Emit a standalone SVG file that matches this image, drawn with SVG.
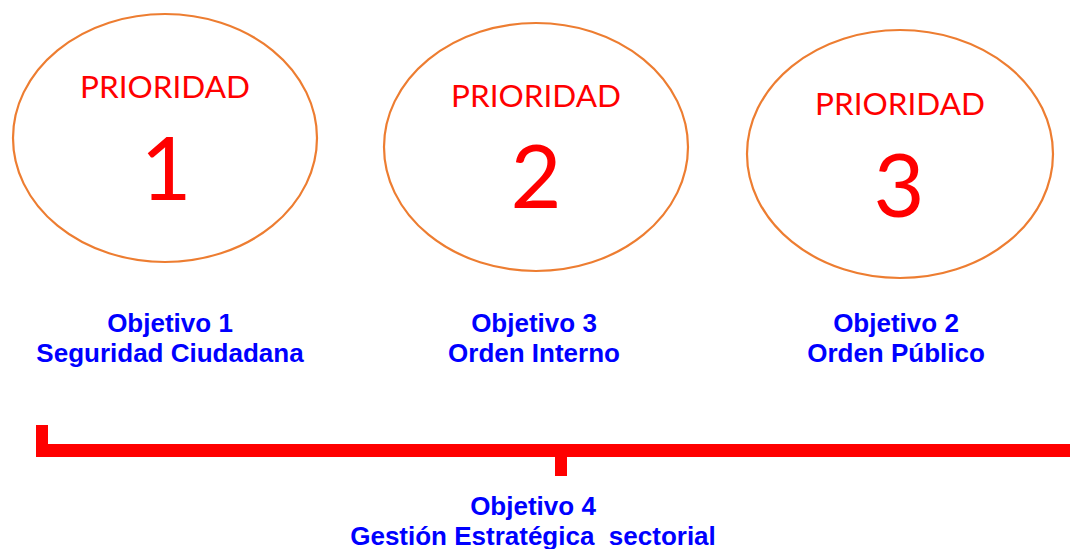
<svg xmlns="http://www.w3.org/2000/svg" width="1070" height="549" viewBox="0 0 1070 549">
<style>
.ell{fill:#fff;stroke:#ED7D31;stroke-width:2.2}
.pri{font-family:Lato,"Open Sans",sans-serif;font-size:31.5px;fill:#FF0000;text-anchor:middle}
.num{font-family:Lato,"Open Sans",sans-serif;font-size:88px;fill:#FF0000;text-anchor:middle}
.obj{font-family:"Liberation Sans",Arial,sans-serif;font-weight:bold;font-size:26px;fill:#0000FF;text-anchor:middle}
.br{fill:#FF0000}
</style>
<rect width="1070" height="549" fill="#fff"/>
<g id="p1">
<ellipse class="ell" cx="165" cy="138" rx="152" ry="124"/>
<text class="pri" x="165" y="98">PRIORIDAD</text>
<text class="num" x="166" y="200">1</text>
</g>
<g id="p2">
<ellipse class="ell" cx="536" cy="147" rx="152" ry="124"/>
<text class="pri" x="536" y="107">PRIORIDAD</text>
<text class="num" x="536" y="208">2</text>
</g>
<g id="p3">
<ellipse class="ell" cx="900" cy="154" rx="153" ry="124"/>
<text class="pri" x="900" y="115">PRIORIDAD</text>
<text class="num" x="899" y="217">3</text>
</g>
<g id="o1"><text class="obj" x="170" y="332">Objetivo 1</text><text class="obj" x="170" y="362">Seguridad Ciudadana</text></g>
<g id="o3"><text class="obj" x="534" y="332">Objetivo 3</text><text class="obj" x="534" y="362">Orden Interno</text></g>
<g id="o2"><text class="obj" x="896" y="332">Objetivo 2</text><text class="obj" x="896" y="362">Orden Público</text></g>
<g id="connectors">
<path class="br" d="M36,425 H48 V444 H1070 V457 H567 V476 H555 V457 H36 Z"/>
</g>
<g id="o4"><text class="obj" x="533" y="515">Objetivo 4</text><text class="obj" x="533" y="545" xml:space="preserve">Gestión Estratégica  sectorial</text></g>
</svg>
